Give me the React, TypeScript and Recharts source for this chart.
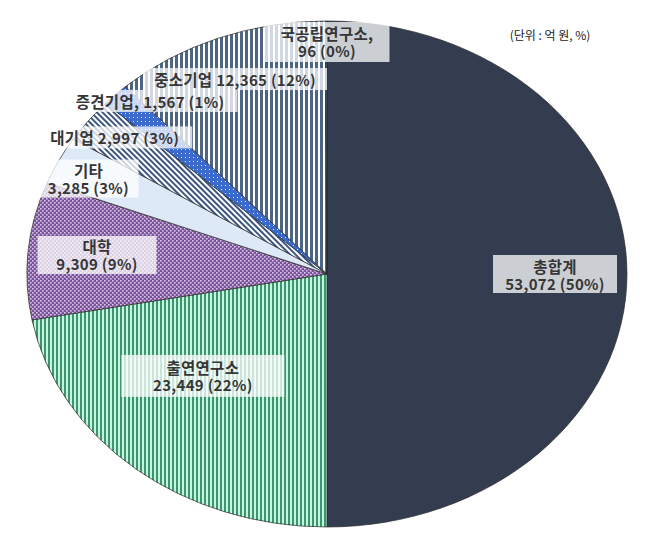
import { Cell, Pie, PieChart } from "recharts";

const categories = ["총합계", "출연연구소", "대학", "기타", "대기업", "증견기업", "중소기업", "국공립연구소"];
const amounts = [53072, 23449, 9309, 3285, 2997, 1567, 12365, 96];
const unitNote = "(단위 : 억 원, %)";

const total = amounts.reduce((s, v) => s + v, 0);
const data = categories.map((name, i) => ({ name, value: amounts[i] }));

const fills = [
  "#333d4f",
  "url(#pStripeGreen)",
  "url(#pDotsPurple)",
  "#dde9f7",
  "url(#pHatch)",
  "url(#pDotsBlue)",
  "url(#pStripeSlate)",
  "url(#pStripeSlate)",
];

// label placement: fraction of the x/y radius along midAngle, box size, one or two lines
const labelLayout = [
  { fx: 0.76, fy: 0, w: 124, h: 38, sep: "\n" },
  { fx: 0.647, fy: 0.524, w: 163, h: 42, sep: "\n" },
  { fx: 0.77, fy: 0.81, w: 119, h: 38, sep: "\n" },
  { fx: 0.89, fy: 0.84, w: 100, h: 38, sep: "\n" },
  { fx: 0.89, fy: 0.89, w: 155, h: 22, sep: " " },
  { fx: 0.835, fy: 0.966, w: 175, h: 22, sep: ", " },
  { fx: 0.844, fy: 0.827, w: 184, h: 22, sep: " " },
  { fx: 0, fy: 0.917, w: 125, h: 40, sep: ",\n" },
];

const X_STRETCH = 300 / 253;
const RAD = Math.PI / 180;
const FONT = "'Noto Sans CJK KR', 'Noto Sans', sans-serif";

const EllipseSector = (props: any) => {
  const { cx, cy, outerRadius, startAngle, endAngle, fill } = props;
  const rx = outerRadius * X_STRETCH;
  const ry = outerRadius;
  const pt = (a: number) => [cx + rx * Math.cos(-a * RAD), cy + ry * Math.sin(-a * RAD)];
  const [x1, y1] = pt(startAngle);
  const [x2, y2] = pt(endAngle);
  const large = Math.abs(endAngle - startAngle) > 180 ? 1 : 0;
  const sweep = startAngle > endAngle ? 1 : 0;
  const d = `M ${cx} ${cy} L ${x1} ${y1} A ${rx} ${ry} 0 ${large} ${sweep} ${x2} ${y2} Z`;
  return <path d={d} fill={fill} stroke="#2a2a2a" strokeWidth={0.7} />;
};

const renderLabel = (props: any) => {
  const { cx, cy, midAngle, outerRadius, index } = props;
  const lay = labelLayout[index];
  const x = cx + outerRadius * X_STRETCH * lay.fx * Math.cos(-midAngle * RAD);
  const y = cy + outerRadius * lay.fy * Math.sin(-midAngle * RAD);
  const pct = Math.round((amounts[index] / total) * 100);
  const numText = `${amounts[index].toLocaleString("en-US")} (${pct}%)`;
  const twoLine = lay.sep.includes("\n");
  const nameText = categories[index] + lay.sep.replace("\n", "");
  const lh = 17;
  const y0 = twoLine ? y - lh / 2 : y;
  return (
    <g>
      <rect x={x - lay.w / 2} y={y - lay.h / 2} width={lay.w} height={lay.h} fill="#ffffff" fillOpacity={0.75} />
      <text
        x={x}
        y={y0}
        textAnchor="middle"
        dominantBaseline="central"
        fontFamily={FONT}
        fontWeight={700}
        letterSpacing={0.3}
        fill="#363636"
      >
        {twoLine ? (
          <>
            <tspan x={x} fontSize={15.5}>
              {nameText}
            </tspan>
            <tspan x={x} dy={lh} fontSize={15}>
              {numText}
            </tspan>
          </>
        ) : (
          <>
            <tspan fontSize={15.5}>{nameText}</tspan>
            <tspan fontSize={15}>{numText}</tspan>
          </>
        )}
      </text>
    </g>
  );
};

export default function App() {
  return (
    <div style={{ position: "absolute", left: 0, top: 0, width: 652, height: 539, background: "#fff" }}>
      <PieChart width={652} height={539} margin={{ top: 0, right: 0, bottom: 0, left: 0 }}>
        <defs>
          <pattern id="pStripeGreen" width="4" height="4" patternUnits="userSpaceOnUse">
            <rect width="4" height="4" fill="#c2f6df" />
            <rect width="2" height="4" fill="#3f9470" />
          </pattern>
          <pattern id="pStripeSlate" width="5" height="5" patternUnits="userSpaceOnUse">
            <rect width="5" height="5" fill="#ffffff" />
            <rect width="3" height="5" fill="#4e6686" />
          </pattern>
          <pattern id="pDotsPurple" width="4" height="4" patternUnits="userSpaceOnUse">
            <rect width="4" height="4" fill="#7b529c" />
            <rect x="0" y="0" width="1.6" height="1.6" fill="#d9c6e8" />
            <rect x="2" y="2" width="1.6" height="1.6" fill="#d9c6e8" />
          </pattern>
          <pattern id="pHatch" width="4" height="4" patternUnits="userSpaceOnUse" patternTransform="rotate(-45)">
            <rect width="4" height="4" fill="#ffffff" />
            <rect width="2" height="4" fill="#3d5680" />
          </pattern>
          <pattern id="pDotsBlue" width="4" height="4" patternUnits="userSpaceOnUse">
            <rect width="4" height="4" fill="#3a6bcc" />
            <rect x="1" y="1" width="1" height="1" fill="#dfe8fb" />
          </pattern>
        </defs>
        <Pie
          data={data}
          dataKey="value"
          nameKey="name"
          cx={327}
          cy={274}
          outerRadius={253}
          startAngle={90}
          endAngle={-270}
          isAnimationActive={false}
          shape={EllipseSector}
          inactiveShape={EllipseSector}
          activeShape={EllipseSector}
          label={renderLabel}
          labelLine={false}
        >
          {data.map((d, i) => (
            <Cell key={d.name} fill={fills[i]} />
          ))}
        </Pie>
        <text x={550} y={34} textAnchor="middle" dominantBaseline="central" fontFamily={FONT} fontSize={12} fill="#222">
          {unitNote}
        </text>
      </PieChart>
    </div>
  );
}
